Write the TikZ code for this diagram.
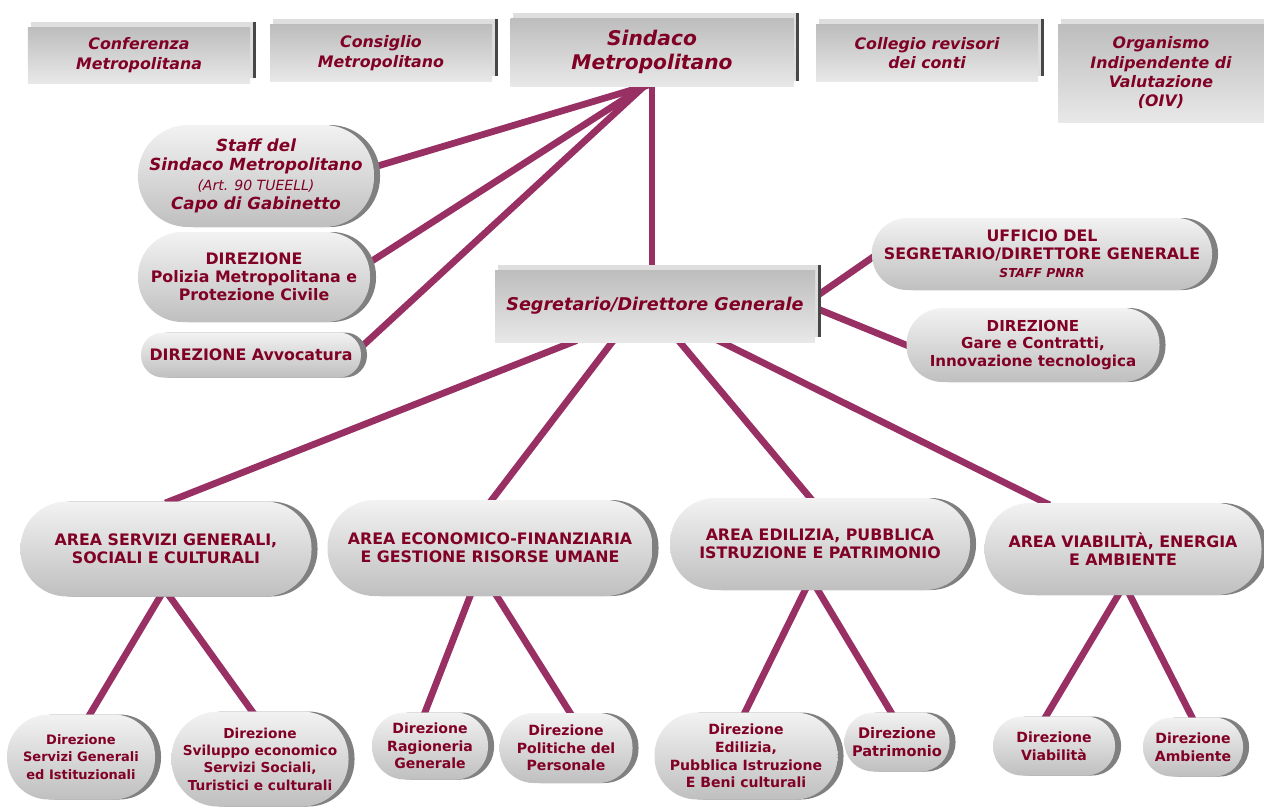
\documentclass[tikz,border=0pt]{standalone}
\usepackage{fontspec}
\setmainfont{DejaVu Sans}
\usetikzlibrary{shapes.misc,shadows,calc}

\definecolor{wine}{RGB}{128,0,38}
\definecolor{plum}{RGB}{152,48,100}

\pgfdeclarelayer{background}
\pgfsetlayers{background,main}

\tikzset{
  box/.style={text=wine, align=center, inner sep=1pt},
  slab/.style={box, rectangle, top color=black!26, bottom color=black!9,
    general shadow={shadow xshift=1.1mm, shadow yshift=1.1mm, fill=black!72},
    general shadow={shadow xshift=0.55mm, shadow yshift=1.1mm, fill=black!13},
    font=\fontsize{9}{11}\selectfont\bfseries\itshape},
  pill/.style={box, rectangle, minimum height=#1, rounded corners={0.49*#1},
    top color=black!5, bottom color=black!25,
    drop shadow={shadow xshift=1.2mm, shadow yshift=0mm, fill=black!50, opacity=1},
    font=\fontsize{9}{10.3}\selectfont\bfseries},
  small/.style={pill=#1, font=\fontsize{8}{10}\selectfont\bfseries},
  link/.style={plum, line width=1.35mm, shorten <=-1mm, shorten >=-1mm},
}

\begin{document}
\begin{tikzpicture}[x=0.2mm,y=-0.2mm]
\useasboundingbox (0,0) rectangle (1264,809);

% Top row
\node[slab, minimum width=44.4mm, minimum height=11.2mm] (conf) at (139,55) {Conferenza\\Metropolitana};
\node[slab, minimum width=44.4mm, minimum height=11.4mm] (consig) at (381,53) {Consiglio\\Metropolitano};
\node[slab, minimum width=56.6mm, minimum height=13.6mm, font=\fontsize{11.5}{13.6}\selectfont\bfseries\itshape] (sindaco) at (652,52) {Sindaco\\Metropolitano};
\node[slab, minimum width=44.4mm, minimum height=11.4mm] (collegio) at (927,53) {Collegio revisori\\dei conti};
\node[slab, minimum width=41.2mm, minimum height=19.6mm] (oiv) at (1161,73) {Organismo\\Indipendente di\\Valutazione\\(OIV)};

% Staff of the Sindaco
\node[pill=20.4mm, minimum width=47.2mm, font=\fontsize{9.5}{11}\selectfont\bfseries\itshape] (staff) at (256,176)
  {Staff del\\Sindaco Metropolitano\\{\fontsize{8}{9.5}\selectfont\mdseries (Art. 90 TUEELL)}\\Capo di Gabinetto};
\node[pill=18mm, minimum width=46.4mm] (poliz) at (254,277) {DIREZIONE\\Polizia Metropolitana e\\Protezione Civile};
\node[pill=9mm, minimum width=44mm] (avvoc) at (251,355) {DIREZIONE Avvocatura};

% Segretario
\node[slab, minimum width=64mm, minimum height=14.4mm, font=\fontsize{10}{12}\selectfont\bfseries\itshape] (seg) at (655,306) {Segretario/Direttore Generale};
\node[pill=14.4mm, minimum width=68mm] (uff) at (1042,254)
  {UFFICIO DEL\\SEGRETARIO/DIRETTORE GENERALE\\{\fontsize{7}{9}\selectfont\itshape STAFF PNRR}};
\node[pill=14.8mm, minimum width=50.6mm, font=\fontsize{8.6}{10}\selectfont\bfseries] (gare) at (1033,345) {DIREZIONE\\Gare e Contratti,\\Innovazione tecnologica};

% Areas
\node[pill=19mm, minimum width=58.2mm] (asg) at (166,549) {AREA SERVIZI GENERALI,\\SOCIALI E CULTURALI};
\node[pill=19.2mm, minimum width=65mm] (aef) at (490,548) {AREA ECONOMICO-FINANZIARIA\\E GESTIONE RISORSE UMANE};
\node[pill=18.4mm, minimum width=60mm] (aed) at (820,544) {AREA EDILIZIA, PUBBLICA\\ISTRUZIONE E PATRIMONIO};
\node[pill=18.4mm, minimum width=55.4mm] (avea) at (1123,549) {AREA VIABILITÀ, ENERGIA\\E AMBIENTE};

% Direzioni
\node[small=17mm, minimum width=29.6mm, font=\fontsize{7.4}{10}\selectfont\bfseries] (dsg) at (81,757) {Direzione\\Servizi Generali\\ed Istituzionali};
\node[small=19mm, minimum width=35.4mm, font=\fontsize{7.8}{9.9}\selectfont\bfseries] (dsv) at (260,759) {Direzione\\Sviluppo economico\\Servizi Sociali,\\Turistici e culturali};
\node[small=13.4mm, minimum width=23.2mm] (drg) at (430,746) {Direzione\\Ragioneria\\Generale};
\node[small=14mm, minimum width=26.6mm] (dpp) at (566,748) {Direzione\\Politiche del\\Personale};
\node[small=17.4mm, minimum width=36.6mm] (ded) at (746,756) {Direzione\\Edilizia,\\Pubblica Istruzione\\E Beni culturali};
\node[small=11.8mm, minimum width=21mm, font=\fontsize{8.3}{10}\selectfont\bfseries] (dpt) at (897,742) {Direzione\\Patrimonio};
\node[small=11.8mm, minimum width=24.4mm] (dvi) at (1054,746) {Direzione\\Viabilità};
\node[small=11.8mm, minimum width=20mm] (dam) at (1193,747) {Direzione\\Ambiente};

% Connectors
\begin{pgfonlayer}{background}
\coordinate (hub) at ($(sindaco.south)+(-8,0)$);
\draw[link] (hub) -- ($(staff.east)+(0,-9)$);
\draw[link] (hub) -- ($(poliz.east)+(0,-15)$);
\draw[link] (hub) -- ($(avvoc.east)+(0,-8)$);
\draw[link] (sindaco.south) -- (sindaco.south |- seg.north);

\draw[link] ($(seg.east)+(0,-9)$) -- ($(uff.west)+(0,4)$);
\draw[link] ($(seg.east)+(0,2)$) -- (gare.west);

\draw[link] ($(seg.south)+(-83,0)$) -- ($(asg.north)+(4,0)$);
\draw[link] ($(seg.south)+(-43,0)$) -- ($(aef.north)+(2,0)$);
\draw[link] ($(seg.south)+(25,0)$) -- ($(aed.north)+(-10,0)$);
\draw[link] ($(seg.south)+(67,0)$) -- ($(avea.north)+(-78,0)$);

\draw[link] ($(asg.south)+(-6,0)$) -- ($(dsg.north)+(9,0)$);
\draw[link] ($(asg.south)+(4,0)$) -- ($(dsv.north)+(-8,0)$);
\draw[link] ($(aef.south)+(-20,0)$) -- ($(drg.north)+(-5,0)$);
\draw[link] ($(aef.south)+(7,0)$) -- ($(dpp.north)+(4,0)$);
\draw[link] ($(aed.south)+(-15,0)$) -- ($(ded.north)+(-1,0)$);
\draw[link] ($(aed.south)+(-2,0)$) -- ($(dpt.north)+(-6,0)$);
\draw[link] ($(avea.south)+(-5,0)$) -- ($(dvi.north)+(-8,0)$);
\draw[link] ($(avea.south)+(7,0)$) -- ($(dam.north)+(-1,0)$);
\end{pgfonlayer}

\end{tikzpicture}
\end{document}
